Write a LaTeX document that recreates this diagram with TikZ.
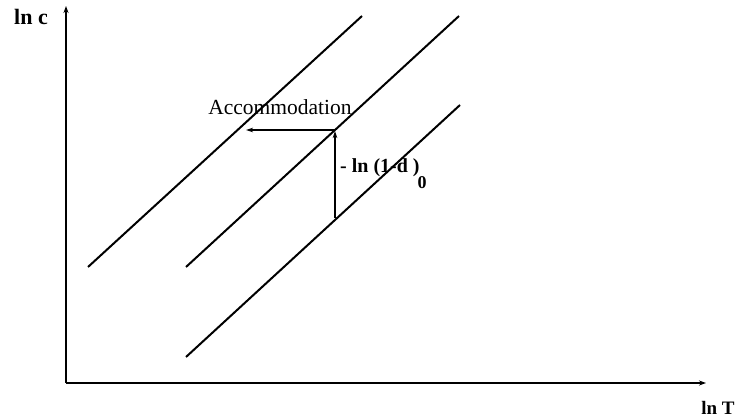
\documentclass[tikz,border=0pt]{standalone}
\usepackage{fontspec}
\setmainfont{Liberation Serif}
\usetikzlibrary{arrows.meta}
\begin{document}
\begin{tikzpicture}[x=1pt,y=-1pt,
  axis/.style={line width=1.9pt,-{Stealth[length=7pt,width=5pt]}},
  curve/.style={line width=2pt},
  arr/.style={line width=1.5pt,-{Stealth[length=7pt,width=4.5pt]}},
  lab/.style={inner sep=0pt,font=\bfseries}]
\useasboundingbox (0,0) rectangle (741,419);
\coordinate (O) at (66,383);
\coordinate (Ytop) at (66,6);
\coordinate (Xend) at (706,383);
\draw[axis] (O) -- (Ytop);
\draw[axis] (O) -- (Xend);
\node[lab,font=\fontsize{22}{22}\selectfont\bfseries] (lnc) at (31,17) {ln c};
\node[lab,font=\fontsize{19}{19}\selectfont\bfseries] (lnT) at (718,408) {ln T};
% lines
\coordinate (A1) at (88,267); \coordinate (B1) at (362,16);
\coordinate (A2) at (186,267); \coordinate (B2) at (459,16);
\coordinate (A3) at (186,357); \coordinate (B3) at (460,105);
\draw[curve] (A1) -- (B1);
\draw[curve] (A2) -- (B2);
\draw[curve] (A3) -- (B3);
% arrows
\coordinate (P) at (335,218);
\coordinate (Q) at (335,131);
\coordinate (R) at (335,130);
\coordinate (S) at (246,130);
\draw[arr] (P) -- (Q);
\draw[arr] (R) -- (S);
\node[inner sep=0pt,anchor=base,font=\fontsize{21.5}{21.5}\selectfont] (acc) at (280,115) {Accommodation};
\node[inner sep=0pt,anchor=base west,font=\fontsize{20}{20}\selectfont\bfseries] (dl) at (340,173) {- ln (1-d )\kern-2pt\raisebox{-16pt}{\fontsize{18}{18}\selectfont 0}};
\end{tikzpicture}
\end{document}
